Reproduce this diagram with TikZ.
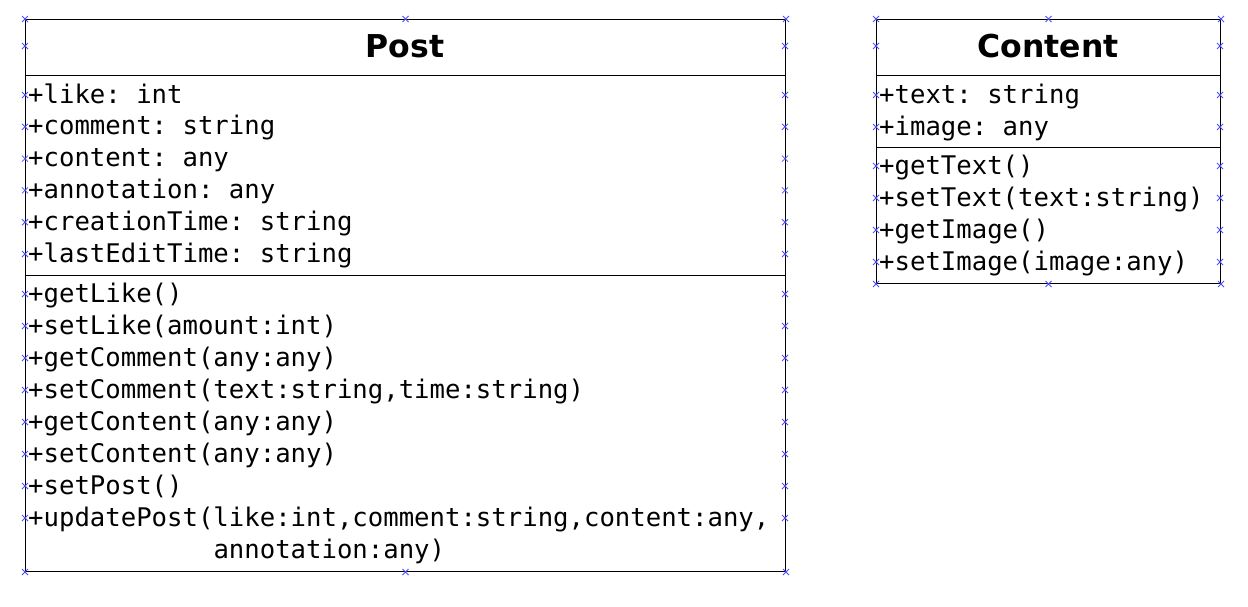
\documentclass[tikz,border=0pt]{standalone}
\usepackage{fontspec}
\setmainfont{DejaVu Sans}
\setmonofont{DejaVu Sans Mono}
\begin{document}
\begin{tikzpicture}[x=1pt,y=-1pt,
  classbox/.style={draw=black,line width=1pt,rectangle,inner sep=0pt,anchor=north west},
  title/.style={font=\fontsize{31.5}{36}\selectfont\bfseries,anchor=base,inner sep=0pt},
  member/.style={font=\fontsize{25.65}{32}\ttfamily,anchor=base west,inner sep=0pt,align=left},
  sep/.style={line width=1pt},
  pin/.style={draw=blue!70!white,line width=0.8pt}]
\useasboundingbox (0,0) rectangle (1248,606);

% ---- class Post ----
\node[classbox,minimum width=760pt,minimum height=552pt] (post) at (25,19) {};
\node[title] (posttitle) at (405,57.5) {Post};
\draw[sep] (post.west |- 0,75) -- (post.east |- 0,75);
\draw[sep] (post.west |- 0,275) -- (post.east |- 0,275);
\foreach \t [count=\i from 0] in {{+like: int},{+comment: string},{+content: any},{+annotation: any},{+creationTime: string},{+lastEditTime: string}}
  \node[member] (pa\i) at (28,{103+31.8*\i}) {\t};
\foreach \t [count=\i from 0] in {{+getLike()},{+setLike(amount:int)},{+getComment(any:any)},{+setComment(text:string,time:string)},{+getContent(any:any)},{+setContent(any:any)},{+setPost()}}
  \node[member] (pm\i) at (28,{302+32*\i}) {\t};
% a two-line node: its base anchor sits on the baseline of the last line
\node[member] (pm7) at (28,558) {+updatePost(like:int,comment:string,content:any,\\\phantom{+updatePost(}annotation:any)};

% ---- class Content ----
\node[classbox,minimum width=344pt,minimum height=264pt] (content) at (876,19) {};
\node[title] (contenttitle) at (1048,57.5) {Content};
\draw[sep] (content.west |- 0,75) -- (content.east |- 0,75);
\draw[sep] (content.west |- 0,147) -- (content.east |- 0,147);
\node[member] (ca0) at (879,103) {+text: string};
\node[member] (ca1) at (879,135) {+image: any};
\foreach \t [count=\i from 0] in {{+getText()},{+setText(text:string)},{+getImage()},{+setImage(image:any)}}
  \node[member] (cm\i) at (879,{174+32*\i}) {\t};

% ---- connection points ----
\foreach \p in {post.north west,post.north,post.north east,post.south west,post.south,post.south east,
                content.north west,content.north,content.north east,content.south west,content.south,content.south east}
  {\draw[pin] ([shift={(-3,-3)}]\p) -- ([shift={(3,3)}]\p) ([shift={(-3,3)}]\p) -- ([shift={(3,-3)}]\p);}
\foreach \y in {46,95,126.8,158.6,190.4,222.2,254,294,326,358,390,422,454,486,518}
  {\draw[pin] (22,\y-3) -- (28,\y+3) (22,\y+3) -- (28,\y-3);
   \draw[pin] (782,\y-3) -- (788,\y+3) (782,\y+3) -- (788,\y-3);}
\foreach \y in {46,95,127,166,198,230,262}
  {\draw[pin] (873,\y-3) -- (879,\y+3) (873,\y+3) -- (879,\y-3);
   \draw[pin] (1217,\y-3) -- (1223,\y+3) (1217,\y+3) -- (1223,\y-3);}
\end{tikzpicture}
\end{document}
